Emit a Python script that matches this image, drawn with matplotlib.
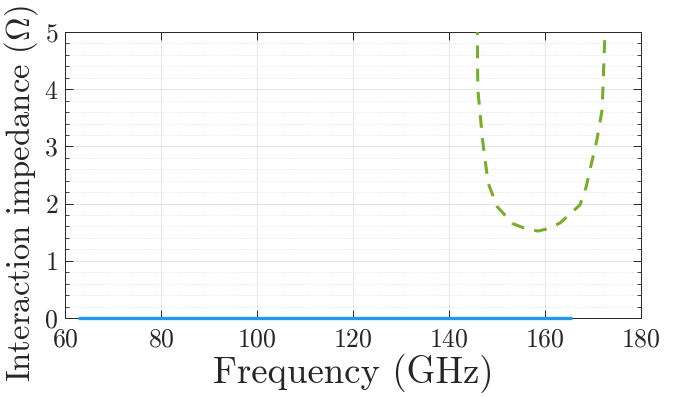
import matplotlib
matplotlib.use("Agg")
import matplotlib.pyplot as plt
from matplotlib.ticker import MultipleLocator

plt.rcParams['font.family'] = 'cmr10'
plt.rcParams['mathtext.fontset'] = 'cm'
plt.rcParams['axes.formatter.use_mathtext'] = True

# Data
blue_freq = [62.8, 80, 100, 120, 140, 160, 165.6]
blue_imp = [0, 0, 0, 0, 0, 0, 0]

green_freq = [145.8, 146.0, 146.4, 147.0, 147.6, 148.2, 150.0, 153.3, 156.0, 158.6, 160.5, 163.1, 165.0, 167.3, 168.6, 169.4, 170.8, 171.9, 172.5, 172.7]
green_imp = [6.0, 4.0, 3.64, 3.11, 2.71, 2.35, 1.95, 1.65, 1.56, 1.52, 1.56, 1.66, 1.8, 1.98, 2.3, 2.6, 3.11, 3.64, 5.0, 6.0]

xticks = [60, 80, 100, 120, 140, 160, 180]
yticks = [0, 1, 2, 3, 4, 5]

fig = plt.figure(figsize=(6.81, 3.97), dpi=100)
ax = fig.add_axes([65/681, 1-318/397, (641-65)/681, (318-32)/397])

ax.plot(blue_freq, blue_imp, color='#1E9BF0', lw=2.4, solid_capstyle='butt', zorder=3, clip_on=False)
ax.plot(green_freq, green_imp, color='#77AC30', lw=2.2, ls=(0, (4.2, 3.4)), zorder=3)

ax.set_xlim(60, 180)
ax.set_ylim(0, 5)
ax.set_xticks(xticks)
ax.set_yticks(yticks)
ax.yaxis.set_minor_locator(MultipleLocator(0.2))

ax.grid(True, which='major', color='#e0e0e0', lw=0.6)
ax.grid(True, which='minor', axis='y', color='#d0d0d0', lw=0.5, ls=(0, (1, 2)))
ax.set_axisbelow(True)

dark = '#262626'
for s in ax.spines.values():
    s.set_color(dark)
    s.set_linewidth(0.7)
ax.tick_params(which='both', direction='in', top=True, right=True, colors=dark, labelsize=18.5)
ax.tick_params(which='major', length=6, width=0.7)
ax.tick_params(axis='x', which='major', pad=7)
ax.tick_params(axis='y', which='major', pad=5)
ax.tick_params(which='minor', length=3, width=0.6)
ax.tick_params(axis='x', which='minor', bottom=False, top=False)

ax.set_xlabel('Frequency (GHz)', fontsize=26.5, color=dark, labelpad=2)
ax.set_ylabel(r'Interaction impedance ($\mathrm{\Omega}$)', fontsize=23.5, color=dark)
ax.yaxis.set_label_coords(-0.044, 0.435)

fig.savefig('out.png', dpi=100)
